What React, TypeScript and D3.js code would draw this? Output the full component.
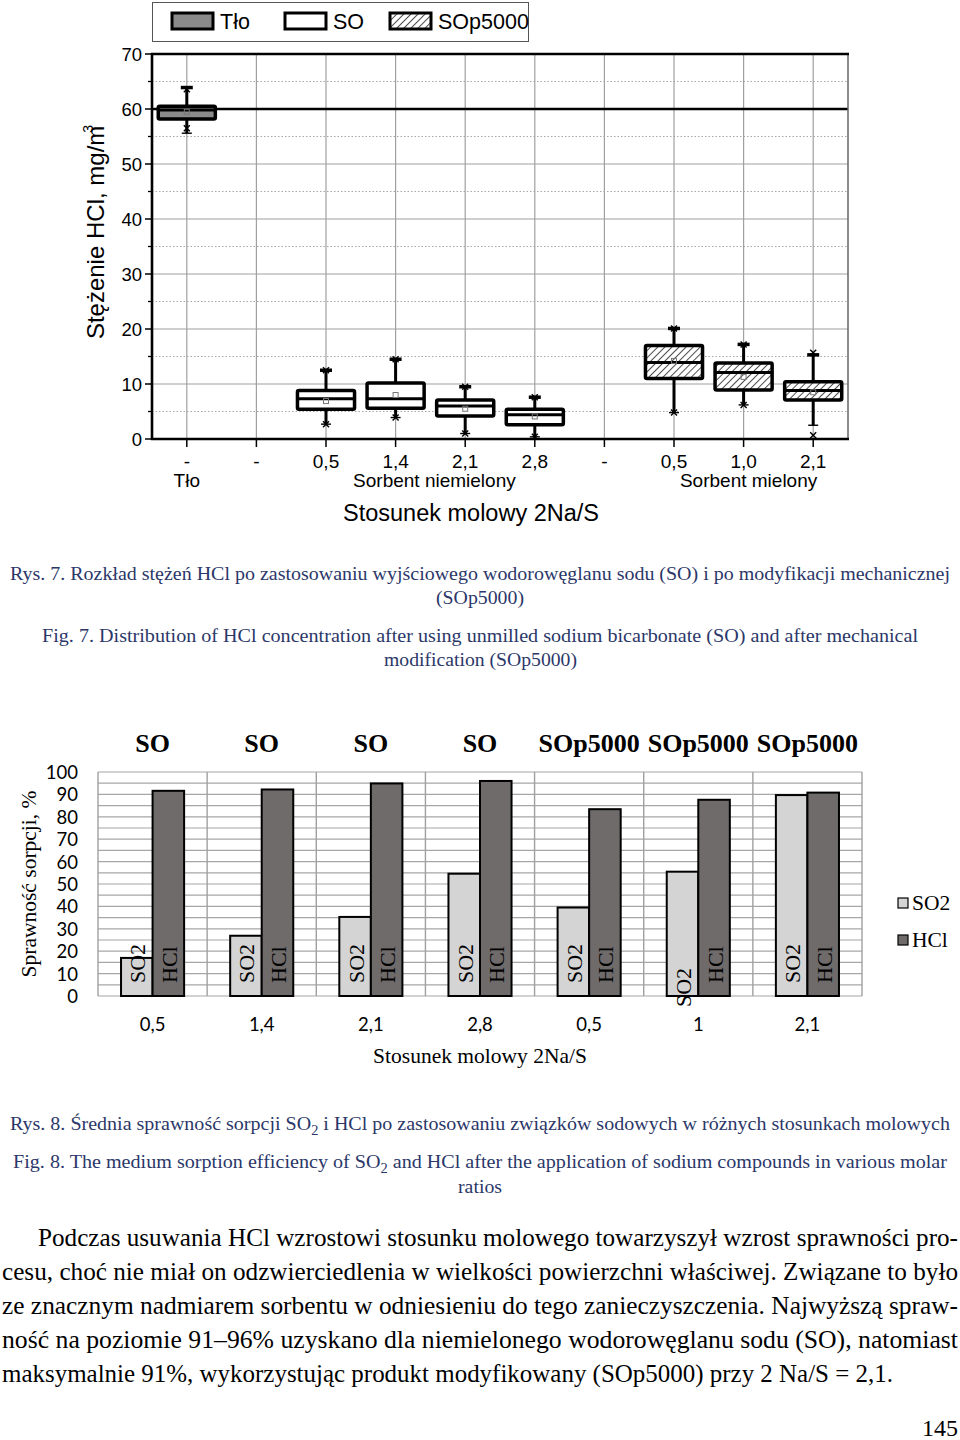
import React from "react";
import * as d3 from "d3";

// ---------- Top chart data (Rys. 7) ----------
const topCategories = ["-", "-", "0,5", "1,4", "2,1", "2,8", "-", "0,5", "1,0", "2,1"];
const topGroupLabels = ["Tło", "Sorbent niemielony", "Sorbent mielony"];
const topGroupFrom = [0, 2, 7];
const topGroupTo = [0, 5, 9];
const topYTicks = [0, 10, 20, 30, 40, 50, 60, 70];
const topLegend = ["Tło", "SO", "SOp5000"];
const boxCategory = [0, 2, 3, 4, 5, 7, 8, 9];
const boxSeries = ["Tło", "SO", "SO", "SO", "SO", "SOp5000", "SOp5000", "SOp5000"];
const boxQ1 = [58.2, 5.4, 5.6, 4.2, 2.6, 11.0, 8.9, 7.1];
const boxMedian = [59.8, 7.3, 7.3, 6.0, 4.4, 13.9, 12.1, 8.8];
const boxQ3 = [60.5, 8.8, 10.2, 7.1, 5.4, 17.0, 13.8, 10.4];
const boxMean = [59.5, 6.9, 8.0, 5.5, 4.1, 14.2, 11.3, 8.5];
const whiskerHigh = [63.9, 12.5, 14.5, 9.5, 7.6, 20.1, 17.2, 15.3];
const whiskerLow = [55.6, 2.7, 3.9, 1.0, 0.4, 4.8, 6.2, 2.5];
const markerHigh = [63.6, 12.5, 14.5, 9.5, 7.6, 20.1, 17.2, 15.7];
const markerLow = [56.5, 2.7, 3.9, 1.0, 0.4, 4.8, 6.2, 0.7];
const backgroundLevel = 60;

// ---------- Bottom chart data (Rys. 8) ----------
const botCategories = ["0,5", "1,4", "2,1", "2,8", "0,5", "1", "2,1"];
const botGroups = ["SO", "SO", "SO", "SO", "SOp5000", "SOp5000", "SOp5000"];
const so2Values = [17.0, 26.9, 35.3, 54.6, 39.5, 55.5, 89.7];
const hclValues = [91.6, 92.2, 94.9, 96.0, 83.4, 87.6, 90.8];
const botSeries = ["SO2", "HCl"];
const botYTicks = [0, 10, 20, 30, 40, 50, 60, 70, 80, 90, 100];

// ---------- Text ----------
const cap7 = [
  "Rys. 7. Rozkład stężeń HCl po zastosowaniu wyjściowego wodorowęglanu sodu (SO) i po modyfikacji mechanicznej",
  "(SOp5000)",
  "Fig. 7. Distribution of  HCl concentration after using unmilled sodium bicarbonate (SO) and after mechanical",
  "modification (SOp5000)",
];
const paragraph = [
  "Podczas usuwania HCl wzrostowi stosunku molowego towarzyszył wzrost sprawności pro-",
  "cesu, choć nie miał on odzwierciedlenia w wielkości powierzchni właściwej. Związane to było",
  "ze znacznym nadmiarem sorbentu w odniesieniu do tego zanieczyszczenia. Najwyższą spraw-",
  "ność na poziomie 91–96% uzyskano dla niemielonego wodorowęglanu sodu (SO), natomiast",
  "maksymalnie 91%, wykorzystując produkt modyfikowany (SOp5000) przy 2 Na/S = 2,1.",
];

const SANS = "'Liberation Sans', Arial, sans-serif";
const SERIF = "'Liberation Serif', 'Times New Roman', serif";
const CAL = "Lato, 'Open Sans', sans-serif";
const NAVY = "#2b3769";

function seriesFill(s: string) {
  if (s === "Tło") return "#8a8a8a";
  if (s === "SO") return "#ffffff";
  return "url(#hatch)";
}

export default function App() {
  // top scales
  const xT = d3.scaleBand<number>().domain(d3.range(topCategories.length)).range([152, 848]);
  const yT = d3.scaleLinear().domain([0, 70]).range([439, 54]);
  const cT = (i: number) => (xT(i) as number) + xT.bandwidth() / 2;
  const boxW = xT.bandwidth() * 0.82;
  const minorTicks = d3.range(5, 70, 10);

  // bottom scales
  const xB = d3.scaleBand<number>().domain(d3.range(botCategories.length)).range([98, 862]);
  const yB = d3.scaleLinear().domain([0, 100]).range([996, 772]);
  const cB = (i: number) => (xB(i) as number) + xB.bandwidth() / 2;
  const barW = xB.bandwidth() * 0.289;
  const gridB = d3.range(0, 101, 5);

  const xMark = (cx: number, cy: number, r: number, key: string) => (
    <g key={key} stroke="#000" strokeWidth={1.4}>
      <line x1={cx - r} y1={cy - r} x2={cx + r} y2={cy + r} />
      <line x1={cx - r} y1={cy + r} x2={cx + r} y2={cy - r} />
    </g>
  );

  return (
    <svg width={960} height={1440} style={{ position: "absolute", left: 0, top: 0, background: "#fff" }}>
      <defs>
        <pattern id="hatch" patternUnits="userSpaceOnUse" width={5} height={5} patternTransform="rotate(45)">
          <rect width={5} height={5} fill="#fff" />
          <line x1={0} y1={0} x2={0} y2={5} stroke="#222" strokeWidth={1.6} />
        </pattern>
      </defs>
      <rect x={0} y={0} width={960} height={1440} fill="#fff" />

      {/* ===== TOP CHART ===== */}
      {/* legend */}
      <rect x={152.5} y={2.5} width={376} height={39} fill="#fff" stroke="#555" strokeWidth={1} />
      {topLegend.map((s, i) => {
        const sx = [172, 285, 390][i];
        return (
          <g key={s}>
            <rect x={sx} y={13} width={41} height={16} fill={seriesFill(s)} stroke="#000" strokeWidth={3} />
            <text x={sx + 48} y={28.5} fontFamily={SANS} fontSize={21.5} fill="#000">{s}</text>
          </g>
        );
      })}

      {/* grid */}
      {minorTicks.map((v) => (
        <line key={"mn" + v} x1={152} x2={848} y1={yT(v)} y2={yT(v)} stroke="#a8a8a8" strokeWidth={1} strokeDasharray="1.5 2" />
      ))}
      {topYTicks.slice(1, -1).map((v) => (
        <line key={"mj" + v} x1={152} x2={848} y1={yT(v)} y2={yT(v)} stroke="#a0a0a0" strokeWidth={1.2} />
      ))}
      {topCategories.map((_, i) => (
        <line key={"vg" + i} x1={cT(i)} x2={cT(i)} y1={54} y2={439} stroke="#a0a0a0" strokeWidth={1.2} />
      ))}

      {/* background reference line */}
      <line x1={152} x2={848} y1={yT(backgroundLevel)} y2={yT(backgroundLevel)} stroke="#000" strokeWidth={2.6} />

      {/* boxes */}
      {boxCategory.map((ci, k) => {
        const cx = cT(ci);
        const s = boxSeries[k];
        return (
          <g key={"box" + k}>
            <line x1={cx} x2={cx} y1={yT(boxQ3[k])} y2={yT(whiskerHigh[k])} stroke="#000" strokeWidth={3} />
            <line x1={cx} x2={cx} y1={yT(boxQ1[k])} y2={yT(whiskerLow[k])} stroke="#000" strokeWidth={3} />
            <line x1={cx - 6} x2={cx + 6} y1={yT(whiskerHigh[k])} y2={yT(whiskerHigh[k])} stroke="#000" strokeWidth={3.5} />
            <line x1={cx - 5} x2={cx + 5} y1={yT(whiskerLow[k])} y2={yT(whiskerLow[k])} stroke="#000" strokeWidth={1.4} />
            {xMark(cx, yT(markerHigh[k]), 3, "mh")}
            {xMark(cx, yT(markerLow[k]), 3, "ml")}
            <rect
              x={cx - boxW / 2}
              y={yT(boxQ3[k])}
              width={boxW}
              height={yT(boxQ1[k]) - yT(boxQ3[k])}
              fill={seriesFill(s)}
              stroke="#000"
              strokeWidth={3.5}
              rx={1.5}
            />
            <line x1={cx - boxW / 2} x2={cx + boxW / 2} y1={yT(boxMedian[k])} y2={yT(boxMedian[k])} stroke="#000" strokeWidth={3} />
            <rect x={cx - 2.5} y={yT(boxMean[k]) - 2.5} width={5} height={5} fill="none" stroke="#777" strokeWidth={1} />
          </g>
        );
      })}

      {/* frame */}
      <line x1={848} x2={848} y1={54} y2={439} stroke="#666" strokeWidth={1.5} />
      <line x1={151} x2={849} y1={54} y2={54} stroke="#000" strokeWidth={2.6} />
      <line x1={151} x2={849} y1={439} y2={439} stroke="#000" strokeWidth={2.6} />
      <line x1={152} x2={152} y1={53} y2={440} stroke="#000" strokeWidth={2.6} />

      {/* y ticks */}
      {topYTicks.map((v) => (
        <g key={"yt" + v}>
          <line x1={145} x2={152} y1={yT(v)} y2={yT(v)} stroke="#000" strokeWidth={1.5} />
          <text x={142} y={yT(v) + 6.5} textAnchor="end" fontFamily={SANS} fontSize={18.5} fill="#000">{v}</text>
        </g>
      ))}
      {minorTicks.map((v) => (
        <line key={"ymt" + v} x1={148} x2={152} y1={yT(v)} y2={yT(v)} stroke="#000" strokeWidth={1.3} />
      ))}
      <text transform="translate(104,232) rotate(-90)" textAnchor="middle" fontFamily={SANS} fontSize={24} fill="#000">
        Stężenie HCl, mg/m<tspan dx={-7} dy={-11} fontSize={14}>3</tspan>
      </text>

      {/* x ticks */}
      {topCategories.map((c, i) => (
        <g key={"xt" + i}>
          <line x1={cT(i)} x2={cT(i)} y1={439} y2={447} stroke="#000" strokeWidth={1.5} />
          <text x={cT(i)} y={468} textAnchor="middle" fontFamily={SANS} fontSize={19} fill="#000">{c}</text>
        </g>
      ))}
      {topGroupLabels.map((g, i) => (
        <text key={g} x={(cT(topGroupFrom[i]) + cT(topGroupTo[i])) / 2 + (i === 1 ? 4 : i === 2 ? 5 : 0)} y={487} textAnchor="middle" fontFamily={SANS} fontSize={19} fill="#000">
          {g}
        </text>
      ))}
      <text x={471} y={521} textAnchor="middle" fontFamily={SANS} fontSize={23.5} fill="#000">Stosunek molowy 2Na/S</text>

      {/* caption 7 */}
      <text x={10} y={580} textLength={940} lengthAdjust="spacingAndGlyphs" fontFamily={SERIF} fontSize={19.5} fill={NAVY}>{cap7[0]}</text>
      <text x={436} y={604} textLength={88} lengthAdjust="spacingAndGlyphs" fontFamily={SERIF} fontSize={19.5} fill={NAVY}>{cap7[1]}</text>
      <text x={42} y={642} textLength={876} lengthAdjust="spacingAndGlyphs" fontFamily={SERIF} fontSize={19.5} fill={NAVY}>{cap7[2]}</text>
      <text x={384} y={666} textLength={193} lengthAdjust="spacingAndGlyphs" fontFamily={SERIF} fontSize={19.5} fill={NAVY}>{cap7[3]}</text>

      {/* ===== BOTTOM CHART ===== */}
      {botGroups.map((g, i) => (
        <text key={"hd" + i} x={cB(i)} y={752} textAnchor="middle" fontFamily={SERIF} fontWeight="bold" fontSize={26} fill="#000">{g}</text>
      ))}
      {gridB.map((v) => (
        <line key={"gb" + v} x1={98} x2={862} y1={yB(v)} y2={yB(v)} stroke="#a6a6a6" strokeWidth={1.2} />
      ))}
      {d3.range(botCategories.length + 1).map((i) => {
        const x = i < botCategories.length ? (xB(i) as number) : 862;
        return <line key={"vb" + i} x1={x} x2={x} y1={772} y2={996} stroke="#a0a0a0" strokeWidth={1.4} />;
      })}
      {botCategories.map((c, i) => {
        const x0 = cB(i) - barW;
        const vals = [so2Values[i], hclValues[i]];
        return (
          <g key={"bar" + i}>
            {vals.map((v, j) => (
              <rect key={j} x={x0 + j * barW} y={yB(v)} width={barW} height={yB(0) - yB(v)} fill={j === 0 ? "#d4d4d4" : "#6f6b6b"} stroke="#000" strokeWidth={2} />
            ))}
            {vals.map((_, j) => {
              const lx = x0 + j * barW + barW / 2 + 1;
              const ly = j === 0 && i === 5 ? 1007 : 983;
              return (
                <text key={"l" + j} transform={`translate(${lx},${ly}) rotate(-90)`} dominantBaseline="central" fontFamily={SERIF} fontSize={22} fill="#000">
                  {botSeries[j]}
                </text>
              );
            })}
            <text x={cB(i)} y={1031} textAnchor="middle" fontFamily={CAL} fontSize={18.5} fill="#000">{c}</text>
          </g>
        );
      })}
      {botYTicks.map((v) => (
        <text key={"yb" + v} x={78} y={yB(v) + 7} textAnchor="end" fontFamily={CAL} fontSize={18.5} fill="#000">{v}</text>
      ))}
      <text transform="translate(36,884) rotate(-90)" textAnchor="middle" fontFamily={SERIF} fontSize={21.5} fill="#000">Sprawność sorpcji, %</text>
      <text x={480} y={1063} textAnchor="middle" fontFamily={SERIF} fontSize={21.5} fill="#000">Stosunek molowy 2Na/S</text>
      {botSeries.map((s, j) => (
        <g key={"lg" + s}>
          <rect x={898} y={898 + j * 37} width={10} height={10} fill={j === 0 ? "#d4d4d4" : "#6f6b6b"} stroke="#000" strokeWidth={1.2} />
          <text x={912} y={910 + j * 37} fontFamily={SERIF} fontSize={21.5} fill="#000">{s}</text>
        </g>
      ))}

      {/* caption 8 */}
      <text x={10} y={1130} textLength={940} lengthAdjust="spacingAndGlyphs" fontFamily={SERIF} fontSize={19.5} fill={NAVY}>
        Rys. 8. Średnia sprawność sorpcji SO<tspan dy={5} fontSize={14}>2</tspan>
        <tspan dy={-5}> i HCl po zastosowaniu związków sodowych w różnych stosunkach molowych</tspan>
      </text>
      <text x={13} y={1168} textLength={934} lengthAdjust="spacingAndGlyphs" fontFamily={SERIF} fontSize={19.5} fill={NAVY}>
        Fig. 8. The medium sorption efficiency of SO<tspan dy={5} fontSize={14}>2</tspan>
        <tspan dy={-5}>  and HCl after the application of sodium compounds in various molar</tspan>
      </text>
      <text x={458} y={1193} textLength={44} lengthAdjust="spacingAndGlyphs" fontFamily={SERIF} fontSize={19.5} fill={NAVY}>ratios</text>

      {/* paragraph */}
      {paragraph.map((line, i) => {
        const x = i === 0 ? 38 : 2;
        const len = i === 0 ? 920 : i === paragraph.length - 1 ? 891 : 956;
        return (
          <text key={"p" + i} x={x} y={1246 + i * 34} textLength={len} lengthAdjust="spacingAndGlyphs" fontFamily={SERIF} fontSize={24.5} fill="#000">
            {line}
          </text>
        );
      })}
      <text x={958} y={1436} textAnchor="end" fontFamily={SERIF} fontSize={24} fill="#000">145</text>
    </svg>
  );
}
